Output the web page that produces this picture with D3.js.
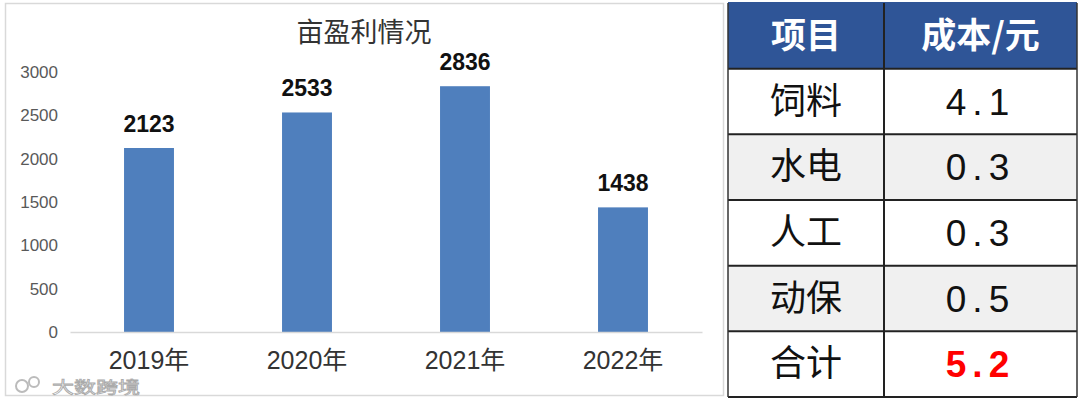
<!DOCTYPE html>
<html><head><meta charset="utf-8">
<script src="https://cdn.jsdelivr.net/npm/d3@7"></script>
<style>
body{margin:0;background:#fff;}
svg{display:block;font-family:"Liberation Sans",Arial,"Noto Sans CJK SC",sans-serif;}
</style></head>
<body>
<svg id="c" width="1080" height="402"></svg>
<script>
const title = "亩盈利情况";
const categories = ["2019年","2020年","2021年","2022年"];
const values = [2123, 2533, 2836, 1438];
const yTicks = [0,500,1000,1500,2000,2500,3000];
const tableHeader = ["项目","成本/元"];
const tableItems = ["饲料","水电","人工","动保","合计"];
const tableCosts = ["4.1","0.3","0.3","0.5","5.2"];

const svg = d3.select("#c");
const cjk = '"Noto Sans CJK SC",sans-serif';

// chart panel border
svg.append("rect").attr("x",5.5).attr("y",3.5).attr("width",718).attr("height",392)
  .attr("fill","#fff").attr("stroke","#d9d9d9").attr("stroke-width",1.5);

const x = d3.scaleBand().domain(categories).range([70,702]).paddingInner(0.684).paddingOuter(0.342);
const y = d3.scaleLinear().domain([0,3000]).range([332,72]);

svg.append("text").attr("x",364).attr("y",42).attr("text-anchor","middle")
  .style("font-family",cjk).style("font-size","27px").attr("fill","#333").text(title);

// y axis labels
const ya = svg.append("g").attr("transform","translate(58,0)")
  .call(d3.axisLeft(y).tickValues(yTicks).tickSize(0).tickPadding(0).tickFormat(d3.format("d")));
ya.select(".domain").remove();
ya.selectAll("text").style("font-size","17px").style("font-family",'"Liberation Sans",Arial,sans-serif').attr("fill","#595959");

// bars
svg.selectAll("rect.bar").data(values).join("rect").attr("class","bar")
  .attr("x",(d,i)=>x(categories[i])).attr("width",x.bandwidth())
  .attr("y",d=>y(d)).attr("height",d=>y(0)-y(d)).attr("fill","#4f7fbd");

// x axis
const xa = svg.append("g").attr("transform","translate(0,332)")
  .call(d3.axisBottom(x).tickSize(0).tickPadding(19));
xa.select(".domain").attr("stroke","#d9d9d9").attr("stroke-width",1.5);
xa.selectAll("text").style("font-size","25px").style("font-family",'"Liberation Sans",Arial,"Noto Sans CJK SC",sans-serif').attr("fill","#333");

// value labels
svg.selectAll("text.val").data(values).join("text").attr("class","val")
  .attr("x",(d,i)=>x(categories[i])+x.bandwidth()/2).attr("y",d=>y(d)-16)
  .attr("text-anchor","middle").style("font-size","23px").style("font-weight","bold").attr("fill","#111")
  .text(d=>d);

// watermark text
svg.append("text").attr("x",52).attr("y",393).style("font-family",cjk).style("font-size","16px")
  .attr("textLength",88).attr("lengthAdjust","spacingAndGlyphs")
  .attr("fill","#fff").attr("stroke","#aaa").attr("stroke-width",0.8).text("大数跨境");
svg.append("circle").attr("cx",22).attr("cy",386).attr("r",6).attr("fill","none").attr("stroke","#bbb").attr("stroke-width",2);
svg.append("circle").attr("cx",34).attr("cy",382).attr("r",5).attr("fill","none").attr("stroke","#bbb").attr("stroke-width",2);

// table
const colX = [728, 884, 1077];
const rowY = d3.scaleBand().domain(d3.range(tableItems.length+1)).range([3,397]);
const tg = svg.append("g");
// header
tg.append("rect").attr("x",colX[0]).attr("y",rowY(0)).attr("width",colX[2]-colX[0]).attr("height",rowY.bandwidth()).attr("fill","#2f5597");
tableItems.forEach((it,i)=>{
  tg.append("rect").attr("x",colX[0]).attr("y",rowY(i+1)).attr("width",colX[2]-colX[0]).attr("height",rowY.bandwidth())
    .attr("fill", i%2===1 ? "#f0f0f0" : "#ffffff");
});
tableHeader.forEach((h,j)=>{
  tg.append("text").attr("x",(colX[j]+colX[j+1])/2).attr("y",rowY(0)+rowY.bandwidth()/2+12)
    .attr("text-anchor","middle").style("font-family",cjk).style("font-size","35px").style("font-weight","bold")
    .attr("fill","#fff").text(h);
});
tableItems.forEach((it,i)=>{
  const cy = rowY(i+1)+rowY.bandwidth()/2;
  tg.append("text").attr("x",(colX[0]+colX[1])/2).attr("y",cy+12).attr("text-anchor","middle")
    .style("font-family",cjk).style("font-size","36px").attr("fill","#111").text(it);
  const last = i===tableItems.length-1;
  tg.append("text").attr("x",(colX[1]+colX[2])/2).attr("y",cy+13).attr("text-anchor","middle")
    .style("font-family",'"Liberation Sans",Arial,sans-serif').style("font-size","37px").style("letter-spacing","6px")
    .style("font-weight", last?"bold":"normal")
    .attr("fill", last?"#ff0000":"#111").text(tableCosts[i]);
});
// grid lines
const lines = tg.append("g").attr("stroke","#222").attr("stroke-width",2);
d3.range(tableItems.length+2).forEach(k=>{
  const yy = k<=tableItems.length ? rowY(k) : 397;
  lines.append("line").attr("x1",colX[0]).attr("x2",colX[2]).attr("y1",yy).attr("y2",yy)
    .attr("stroke", k===0?"#2f5597":"#222");
});
colX.forEach((cx,j)=>{
  lines.append("line").attr("x1",cx).attr("x2",cx).attr("y1",3).attr("y2",397)
    .attr("stroke", j===1?"#222":"#333").attr("stroke-width", j===1?2:1.5);
});
</script>
</body></html>
